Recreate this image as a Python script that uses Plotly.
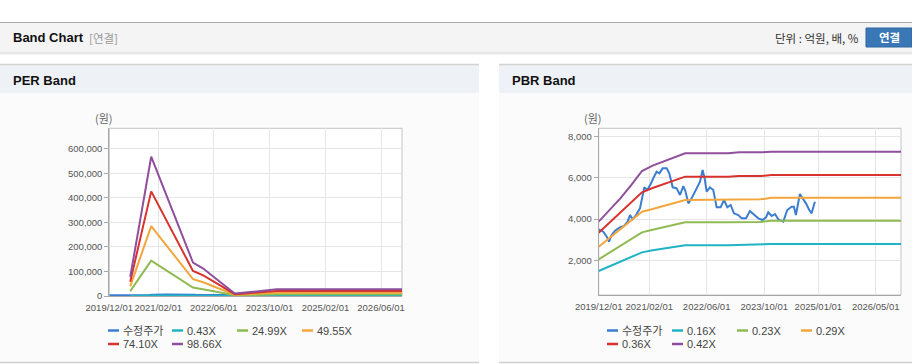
import plotly.graph_objects as go

W, H = 912, 364

# ---------------- data ----------------
per_band_dates = ['2020-06-01', '2020-12-01', '2021-12-01', '2022-03-01', '2022-06-01', '2022-09-01',
                  '2022-12-01', '2023-03-01', '2023-06-01', '2023-09-01', '2023-12-01', '2026-12-01']
per_043 = [340, 2470, 590, 490, 340, 190, 40, 60, 80, 100, 120, 120]
per_2499 = [19600, 143700, 34500, 28300, 19600, 11100, 2500, 3500, 4900, 5900, 6900, 6900]
per_4955 = [38900, 284900, 68500, 56100, 38900, 22000, 4900, 7000, 9700, 11700, 13700, 13700]
per_7410 = [58200, 426100, 102400, 84000, 58200, 32800, 7400, 10400, 14500, 17500, 20500, 20500]
per_9866 = [77500, 567300, 136300, 111800, 77500, 43700, 9800, 13900, 19300, 23300, 27300, 27300]
per_names = ['수정주가', '0.43X', '24.99X', '49.55X', '74.10X', '98.66X']

pbr_band_dates = ['2019-12-01', '2020-03-01', '2020-06-01', '2020-09-01', '2020-12-01', '2021-03-01',
                  '2021-06-01', '2021-09-01', '2021-12-01', '2022-12-01', '2023-03-01', '2023-09-01',
                  '2023-12-01', '2026-12-01']
pbr_016 = [1481, 1707, 1934, 2160, 2387, 2484, 2565, 2646, 2727, 2727, 2743, 2743, 2791, 2791]
pbr_023 = [2047, 2371, 2710, 3034, 3358, 3487, 3617, 3730, 3843, 3843, 3859, 3859, 3924, 3924]
pbr_029 = [2662, 3082, 3503, 3940, 4361, 4490, 4620, 4781, 4927, 4927, 4959, 4959, 5040, 5040]
pbr_036 = [3341, 3827, 4328, 4814, 5299, 5510, 5687, 5898, 6060, 6060, 6092, 6092, 6141, 6141]
pbr_042 = [3875, 4442, 5008, 5655, 6335, 6594, 6788, 6998, 7192, 7192, 7241, 7241, 7273, 7273]
pbr_names = ['수정주가', '0.16X', '0.23X', '0.29X', '0.36X', '0.42X']

price_dates = ['2019-12-01', '2020-01-09', '2020-02-07', '2020-02-26', '2020-03-20', '2020-04-17',
               '2020-05-24', '2020-07-02', '2020-08-02', '2020-08-22', '2020-09-13', '2020-10-12',
               '2020-11-14', '2020-12-07', '2020-12-21', '2021-01-15', '2021-02-13', '2021-03-13',
               '2021-04-04', '2021-04-27', '2021-05-25', '2021-06-28', '2021-07-20', '2021-08-18',
               '2021-09-20', '2021-10-19', '2021-11-16', '2021-12-05', '2021-12-28', '2022-01-25',
               '2022-03-03', '2022-04-06', '2022-04-28', '2022-05-15', '2022-06-01', '2022-06-29',
               '2022-07-27', '2022-08-25', '2022-09-27', '2022-10-26', '2022-11-23', '2022-12-21',
               '2023-01-18', '2023-02-24', '2023-03-24', '2023-04-30', '2023-06-02', '2023-07-06',
               '2023-08-12', '2023-09-17', '2023-10-16', '2023-11-04', '2023-12-03', '2023-12-31',
               '2024-01-28', '2024-03-10', '2024-04-13', '2024-05-20', '2024-06-08', '2024-06-25',
               '2024-07-15', '2024-07-29', '2024-08-21', '2024-09-18', '2024-10-16', '2024-11-05',
               '2024-11-19', '2024-12-03']
price = [3503, 3390, 3147, 2905, 3228, 3439, 3584, 3665, 3875, 4199, 3989, 4199,
         4523, 5089, 5542, 5412, 5704, 6060, 6302, 6221, 6464, 6464, 6221, 5542,
         5493, 5170, 5607, 5331, 4765, 5008, 5412, 5817, 6383, 5979, 5331, 5542,
         5412, 4571, 4571, 4927, 4571, 4685, 4280, 4199, 4037, 4037, 4393, 4199,
         4037, 3956, 4086, 4328, 4150, 4247, 3989, 3875, 4442, 4604, 4604, 4199,
         4765, 5218, 5008, 4765, 4442, 4280, 4571, 4846]

per_ticks = ['2019-12-01', '2021-02-01', '2022-06-01', '2023-10-01', '2025-02-01', '2026-06-01']
per_ticktext = ['2019/12/01', '2021/02/01', '2022/06/01', '2023/10/01', '2025/02/01', '2026/06/01']
pbr_ticks = ['2019-12-01', '2021-02-01', '2022-06-01', '2023-10-01', '2025-01-01', '2026-05-01']
pbr_ticktext = ['2019/12/01', '2021/02/01', '2022/06/01', '2023/10/01', '2025/01/01', '2026/05/01']

colors = ['#3b7dd0', '#20b3c5', '#8fbb52', '#f2a63c', '#d8332c', '#904f9d']

# ---------------- helpers ----------------
def px(x):
    return x / W

def py(y):
    return 1 - y / H

fig = go.Figure()

per_series = [(price_dates, price), (per_band_dates, per_043), (per_band_dates, per_2499),
              (per_band_dates, per_4955), (per_band_dates, per_7410), (per_band_dates, per_9866)]
pbr_series = [(price_dates, price), (pbr_band_dates, pbr_016), (pbr_band_dates, pbr_023),
              (pbr_band_dates, pbr_029), (pbr_band_dates, pbr_036), (pbr_band_dates, pbr_042)]

for (xs, ys), name, c in zip(per_series, per_names, colors):
    fig.add_trace(go.Scatter(x=xs, y=ys, name=name, mode='lines', line=dict(color=c, width=2),
                             xaxis='x', yaxis='y', showlegend=False))
for (xs, ys), name, c in zip(pbr_series, pbr_names, colors):
    fig.add_trace(go.Scatter(x=xs, y=ys, name=name, mode='lines', line=dict(color=c, width=2),
                             xaxis='x2', yaxis='y2', showlegend=False))

tickfont = dict(family='Liberation Sans, Arial, sans-serif', size=9.5, color='#555')
axis_common = dict(showgrid=True, gridcolor='#e6e6e6', gridwidth=1, zeroline=False,
                   showline=True, linecolor='#a8a8a8', linewidth=1, tickfont=tickfont,
                   fixedrange=True, automargin=False)

per_l, per_r, top, per_b = 109.3, 402, 128.3, 296
pbr_l, pbr_r, pbr_b = 598.7, 901, 295

fig.update_layout(
    width=W, height=H, margin=dict(l=0, r=0, t=0, b=0, pad=0, autoexpand=False), autosize=False,
    showlegend=False,
    paper_bgcolor='white', plot_bgcolor='white',
    xaxis=dict(domain=[px(per_l), px(per_r)], anchor='y', type='date',
               range=['2019-12-01', '2026-12-01'], tickvals=per_ticks, ticktext=per_ticktext,
               tickangle=0, ticks='outside', ticklen=3, tickcolor='rgba(0,0,0,0)', **axis_common),
    yaxis=dict(domain=[py(per_b), py(top)], anchor='x', range=[0, 683000], dtick=100000,
               tickformat=',d', ticks='outside', ticklen=4, tickcolor='#a8a8a8', **axis_common),
    xaxis2=dict(domain=[px(pbr_l), px(pbr_r)], anchor='y2', type='date',
                range=['2019-12-01', '2026-12-01'], tickvals=pbr_ticks, ticktext=pbr_ticktext,
                tickangle=0, ticks='outside', ticklen=3, tickcolor='rgba(0,0,0,0)', **axis_common),
    yaxis2=dict(domain=[py(pbr_b), py(top)], anchor='x2', range=[316, 8408], tickvals=[2000, 4000, 6000, 8000],
                tickformat=',d', ticks='outside', ticklen=4, tickcolor='#a8a8a8', **axis_common),
)

shapes = []
def rect(x0, y0, x1, y1, fill, line=None, lw=0, layer='below'):
    shapes.append(dict(type='rect', xref='paper', yref='paper', x0=px(x0), x1=px(x1), y0=py(y1), y1=py(y0),
                       fillcolor=fill, line=dict(color=line or fill, width=lw), layer=layer))

def hline(x0, x1, y, color, w=1, layer='below'):
    shapes.append(dict(type='line', xref='paper', yref='paper', x0=px(x0), x1=px(x1), y0=py(y), y1=py(y),
                       line=dict(color=color, width=w), layer=layer))

# top header bar
rect(0, 22, 912, 52.5, '#f4f4f4')
hline(0, 912, 22.5, '#aaaaaa')
hline(0, 912, 53, '#cfcfcf')
hline(0, 912, 54, '#e8e8e8')
# button
rect(866, 28, 912, 47, '#3a77b7', '#2e66a3', 1)
# panels
for x0, x1 in [(0, 479), (499, 912)]:
    rect(x0, 93, x1, 362, '#fbfbfb')
    rect(x0, 64, x1, 93, '#eef1f6')
    hline(x0, x1, 64.5, '#d2d2d2', 1.5)
    hline(x0, x1, 362.5, '#d0d0d0', 1.5)
# plot areas
rect(per_l, top, per_r, per_b, 'white', '#c4c4c4', 1)
rect(pbr_l, top, pbr_r, pbr_b, 'white', '#c4c4c4', 1)

annotations = []
def text(x, y, s, size=12, color='#333', xanchor='left', family='Liberation Sans, Noto Sans CJK KR, sans-serif'):
    annotations.append(dict(xref='paper', yref='paper', x=px(x), y=py(y), text=s, showarrow=False,
                            xanchor=xanchor, yanchor='middle',
                            font=dict(size=size, color=color, family=family)))

kr = 'Noto Sans CJK KR, sans-serif'
text(11, 38, '<b>Band Chart</b>', 13, '#111')
text(87, 38, '[연결]', 11.5, '#999', family=kr)
text(861, 38, '단위 : 억원, 배, %', 11.5, '#333', 'right', family=kr)
text(889, 37.5, '<b>연결</b>', 11.5, 'white', 'center', family=kr)
text(11, 80, '<b>PER Band</b>', 13, '#111')
text(510, 80, '<b>PBR Band</b>', 13, '#111')
text(104, 118, '(원)', 11, '#666', 'center', family=kr)
text(593, 118, '(원)', 11, '#666', 'center', family=kr)

# legends
per_cols = [108, 172, 237, 302, 108, 172]
pbr_cols = [607, 672, 737, 801, 607, 672]
rows = [330.5, 330.5, 330.5, 330.5, 344, 344]
for cols, names in [(per_cols, per_names), (pbr_cols, pbr_names)]:
    for xc, yr, name, c in zip(cols, rows, names, colors):
        hline(xc, xc + 11, yr, c, 2.5, 'above')
        text(xc + 12.5, yr, name, 11, '#444', family='Liberation Sans, Noto Sans CJK KR, sans-serif')

fig.update_layout(shapes=shapes, annotations=annotations)
fig.write_html('out.html', config={'responsive': False, 'displayModeBar': False, 'staticPlot': True},
               post_script=("var d=document.getElementById('{plot_id}');"
                            "d.style.position='fixed';d.style.left='0px';d.style.top='0px';"
                            "document.body.style.margin='0';"
                            "document.documentElement.style.overflow='hidden';"))
